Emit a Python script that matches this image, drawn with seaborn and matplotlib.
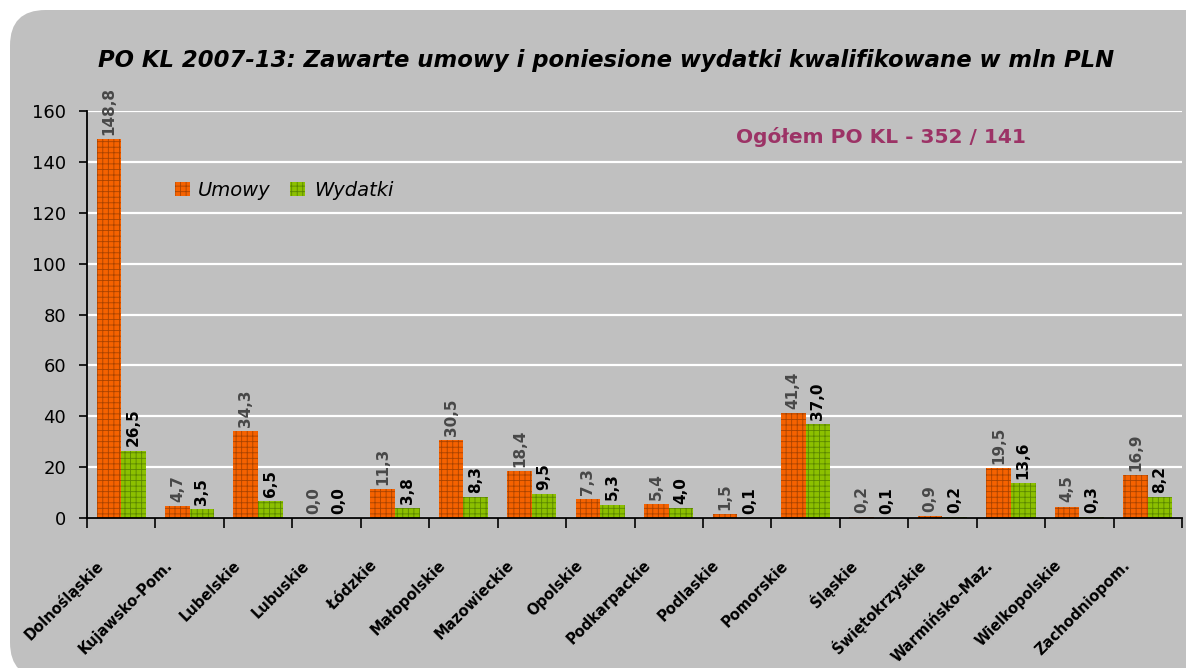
import matplotlib
matplotlib.use('Agg')
import matplotlib.pyplot as plt
import seaborn as sns
import pandas as pd
from matplotlib.patches import FancyBboxPatch, Patch
from matplotlib.transforms import ScaledTranslation

# ---------------- data ----------------
regions = ['Dolnośląskie', 'Kujawsko-Pom.', 'Lubelskie', 'Lubuskie', 'Łódzkie',
           'Małopolskie', 'Mazowieckie', 'Opolskie', 'Podkarpackie', 'Podlaskie',
           'Pomorskie', 'Śląskie', 'Świętokrzyskie', 'Warmińsko-Maz.',
           'Wielkopolskie', 'Zachodniopom.']
umowy = [148.8, 4.7, 34.3, 0.0, 11.3, 30.5, 18.4, 7.3, 5.4, 1.5, 41.4, 0.2, 0.9, 19.5, 4.5, 16.9]
wydatki = [26.5, 3.5, 6.5, 0.0, 3.8, 8.3, 9.5, 5.3, 4.0, 0.1, 37.0, 0.1, 0.2, 13.6, 0.3, 8.2]
series = ['Umowy', 'Wydatki']
yticks = [0, 20, 40, 60, 80, 100, 120, 140, 160]
title = 'PO KL 2007-13: Zawarte umowy i poniesione wydatki kwalifikowane w mln PLN'
note = 'Ogółem PO KL - 352 / 141'

df = pd.DataFrame({
    'region': regions * 2,
    'value': umowy + wydatki,
    'series': [series[0]] * len(regions) + [series[1]] * len(regions),
})

fill_colors = {'Umowy': '#f56200', 'Wydatki': '#8cc000'}
hatch_colors = {'Umowy': '#a84300', 'Wydatki': '#5a8600'}
label_colors = {'Umowy': '#484848', 'Wydatki': '#000000'}

W, H = 1186, 668
fig = plt.figure(figsize=(W / 100, H / 100), dpi=100)
fig.patch.set_facecolor('white')

panel = FancyBboxPatch((10 / W, -10 / H), 1.2, 1.0,
                       boxstyle='round,pad=0,rounding_size=0.03',
                       transform=fig.transFigure, facecolor='#c0c0c0',
                       edgecolor='none', zorder=-10, mutation_aspect=W / H)
fig.patches.append(panel)

ax = fig.add_axes([87 / W, (H - 518) / H, (1182 - 87) / W, (518 - 111) / H])
ax.set_facecolor('#c0c0c0')
ax.set_zorder(1)

plt.rcParams['hatch.linewidth'] = 0.6
sns.barplot(data=df, x='region', y='value', hue='series', order=regions,
            hue_order=series, palette=fill_colors, saturation=1, width=0.72,
            gap=0, ax=ax, legend=False, errorbar=None)

for cont, s, vals in zip(ax.containers, series, [umowy, wydatki]):
    for bar in cont:
        bar.set_hatch('+++')
        bar.set_edgecolor(hatch_colors[s])
        bar.set_linewidth(0)
        bar.set_zorder(3)
    labels = [f'{v:.1f}'.replace('.', ',') for v in vals]
    ax.bar_label(cont, labels=labels, rotation=90, padding=3,
                 fontsize=11, fontweight='bold', color=label_colors[s],
                 family='DejaVu Sans', zorder=4, clip_on=False)

ax.set_ylim(0, 160)
ax.set_xlim(-0.5, len(regions) - 0.5)
ax.set_yticks(yticks)
ax.set_yticklabels([str(t) for t in yticks], fontsize=13, family='DejaVu Sans')
ax.set_xlabel('')
ax.set_ylabel('')
ax.yaxis.grid(True, color='white', linewidth=1.6, zorder=1)
ax.xaxis.grid(False)
ax.set_axisbelow(True)
for side in ['top', 'right']:
    ax.spines[side].set_visible(False)
for side in ['left', 'bottom']:
    ax.spines[side].set_color('black')
    ax.spines[side].set_linewidth(1.3)
ax.spines['bottom'].set_zorder(5)
ax.tick_params(axis='y', length=6, width=1.2, color='black', pad=9)
ax.tick_params(axis='x', which='major', length=0, pad=0)
ax.set_xticks([i - 0.5 for i in range(len(regions) + 1)], minor=True)
ax.tick_params(axis='x', which='minor', length=7, width=1.2, color='black')

ax.set_xticks(range(len(regions)))
ax.set_xticklabels(regions, rotation=45, ha='right', va='center',
                   rotation_mode='anchor', fontsize=10.5, fontweight='bold',
                   family='DejaVu Sans')
off = ScaledTranslation(-0.2, -0.45, fig.dpi_scale_trans)
for lab in ax.get_xticklabels():
    lab.set_transform(lab.get_transform() + off)

handles = [Patch(facecolor=fill_colors[s], edgecolor=hatch_colors[s],
                 hatch='+++', linewidth=0, label=s) for s in series]
leg = fig.legend(handles=handles, loc='center left',
                 bbox_to_anchor=(175 / W, 1 - 190 / H), ncol=2, frameon=False,
                 prop={'family': 'DejaVu Sans', 'style': 'italic', 'size': 14},
                 handlelength=0.75, handleheight=0.75, handletextpad=0.45,
                 columnspacing=1.0, borderpad=0, borderaxespad=0)
leg.set_zorder(6)

fig.text(606 / W, 1 - 60 / H, title, ha='center', va='center',
         fontsize=16.4, fontweight='bold', style='italic', family='DejaVu Sans')
fig.text(881 / W, 1 - 137 / H, note, ha='center', va='center',
         fontsize=14.5, fontweight='bold', color='#9c3366', family='DejaVu Sans',
         zorder=6)

fig.savefig('out.png', dpi=100, facecolor=fig.get_facecolor())
